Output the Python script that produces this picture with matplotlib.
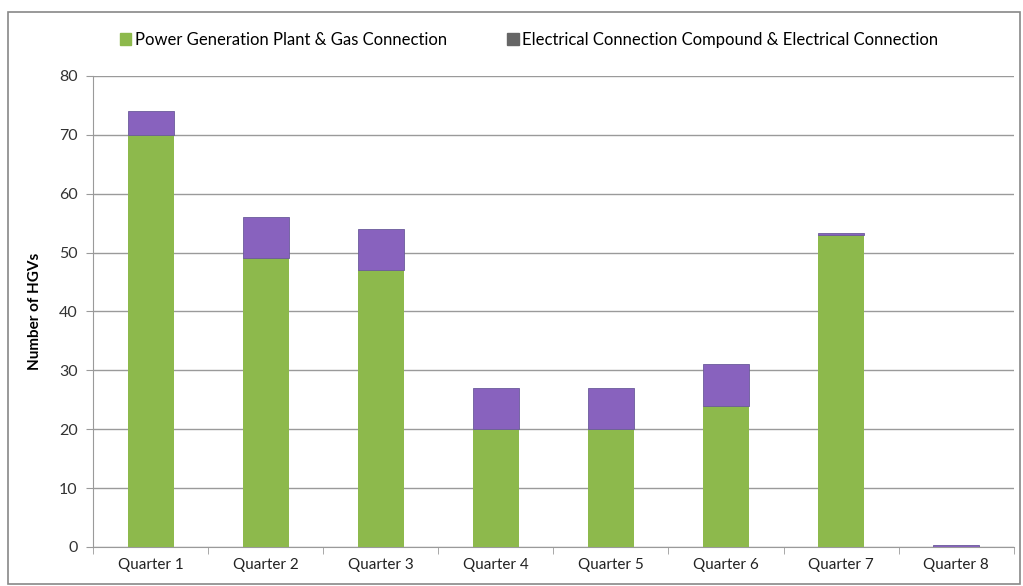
import matplotlib
matplotlib.use("Agg")
import matplotlib.pyplot as plt
from matplotlib.patches import Rectangle, Patch

quarters = ["Quarter 1", "Quarter 2", "Quarter 3", "Quarter 4",
            "Quarter 5", "Quarter 6", "Quarter 7", "Quarter 8"]
power_gas = [70, 49, 47, 20, 20, 24, 53, 0]
electrical = [4, 7, 7, 7, 7, 7, 0.3, 0.3]
series_names = ["Power Generation Plant & Gas Connection",
                "Electrical Connection Compound & Electrical Connection"]
y_ticks = [0, 10, 20, 30, 40, 50, 60, 70, 80]

plt.rcParams["font.family"] = ["Lato", "DejaVu Sans"]

green = "#8DB94C"
purple = "#8862BE"
grid_c = "#9A9A9A"

fig = plt.figure(figsize=(10.23, 5.86), dpi=100)
ax = fig.add_axes([0.0909, 0.0666, 0.9, 0.8038])

x = list(range(len(quarters)))
ax.bar(x, power_gas, width=0.4, color=green, zorder=3)
ax.bar(x, electrical, width=0.4, bottom=power_gas, color=purple,
       edgecolor="#6A5A9A", linewidth=0.6, zorder=3)

ax.set_xlim(-0.5, len(quarters) - 0.5)
ax.set_ylim(0, 80)
ax.set_yticks(y_ticks)
ax.set_yticklabels([str(v) for v in y_ticks], fontsize=11.5, color="#333333")
ax.yaxis.grid(True, color=grid_c, linewidth=1, zorder=0)

ax.set_xticks(x)
ax.set_xticklabels(quarters, fontsize=11, color="#222222")
ax.tick_params(axis="x", length=0, pad=8)
ax.set_xticks([i + 0.5 for i in range(-1, len(quarters))], minor=True)
ax.tick_params(axis="x", which="minor", length=5, color=grid_c)
ax.tick_params(axis="y", length=5, color=grid_c, pad=6)

for side in ["top", "right"]:
    ax.spines[side].set_visible(False)
ax.spines["left"].set_color(grid_c)
ax.spines["bottom"].set_color(grid_c)

ax.set_ylabel("Number of HGVs", fontsize=11, fontweight="bold", labelpad=12)

handles = [Patch(color=green), Patch(color="#666666")]
fig.legend(handles, series_names, loc="center", bbox_to_anchor=(0.517, 0.932),
           ncol=2, frameon=False, fontsize=12, handlelength=0.7,
           handleheight=0.7, handletextpad=0.2, columnspacing=3.6)

fig.patches.append(Rectangle((8 / 1023, 2 / 586), 1012 / 1023, 572 / 586,
                             transform=fig.transFigure, fill=False,
                             edgecolor="#888888", linewidth=1.2))

fig.savefig("out.png", dpi=100)
